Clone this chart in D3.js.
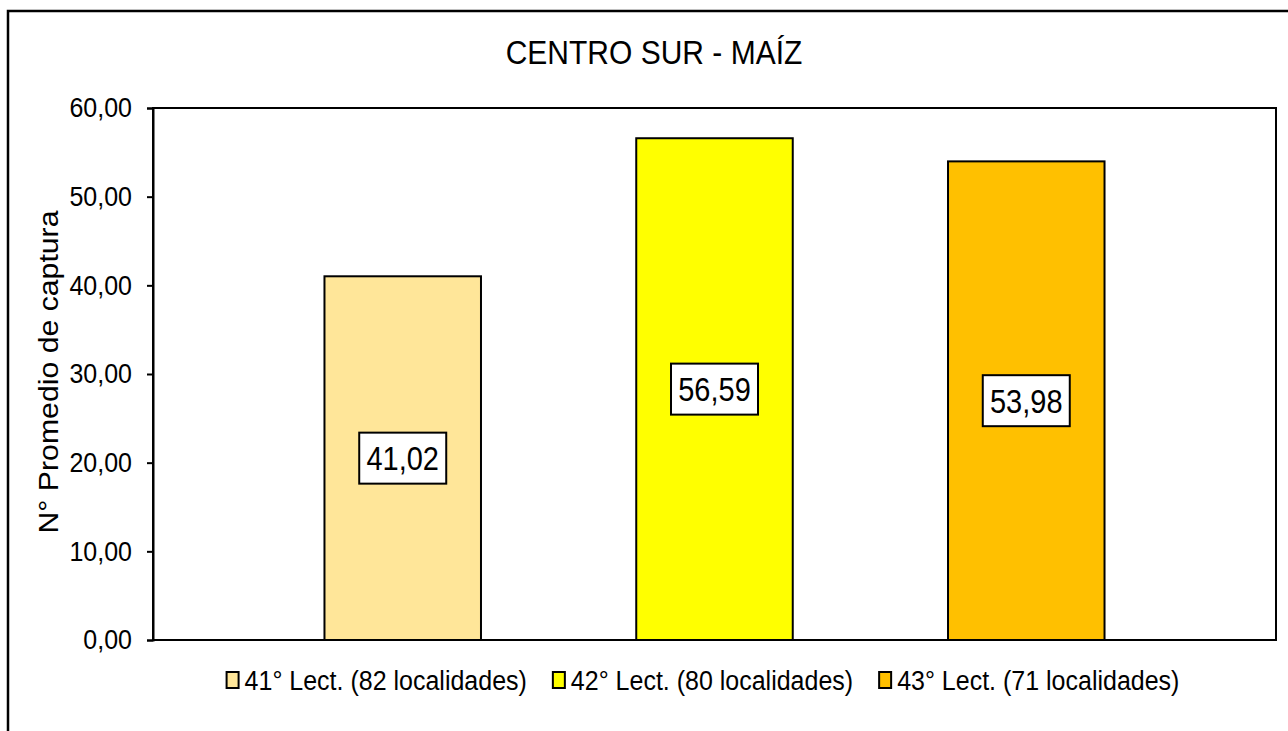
<!DOCTYPE html>
<html>
<head>
<meta charset="utf-8">
<script src="https://cdn.jsdelivr.net/npm/d3@7"></script>
<style>
  html, body { margin: 0; padding: 0; background: #fff; }
  svg { display: block; }
  text { font-family: "Liberation Sans", Arial, sans-serif; fill: #000; }
</style>
</head>
<body>
<svg id="chart" width="1288" height="731"></svg>
<script>
const title = "CENTRO SUR - MAÍZ";
const yTitle = "N° Promedio de captura";
const categories = ["41° Lect. (82 localidades)", "42° Lect. (80 localidades)", "43° Lect. (71 localidades)"];
const values = [41.02, 56.59, 53.98];
const colors = ["#FFE699", "#FFFF00", "#FFC000"];
const yTicks = [0, 10, 20, 30, 40, 50, 60];

const SY = 1.12; // vertical text stretch of the original
const svg = d3.select("#chart");
const plot = {left: 153, right: 1276, top: 108, bottom: 640};
const fmt = d => d3.format(".2f")(d).replace(".", ",");

// outer frame
svg.append("rect").attr("x", 8).attr("y", 11).attr("width", 1300).attr("height", 740)
  .attr("fill", "#fff").attr("stroke", "#000").attr("stroke-width", 2.5);

const x = d3.scaleBand().domain(categories).range([plot.left, plot.right])
  .paddingInner(0.498).paddingOuter(0.55);
const y = d3.scaleLinear().domain([0, 60]).range([plot.bottom, plot.top]);

const data = categories.map((c, i) => ({c, v: values[i], color: colors[i]}));

// bars
svg.append("g").selectAll("rect").data(data).join("rect")
  .attr("x", d => x(d.c)).attr("y", d => y(d.v))
  .attr("width", x.bandwidth()).attr("height", d => y(0) - y(d.v))
  .attr("fill", d => d.color).attr("stroke", "#000").attr("stroke-width", 2);

// plot frame
svg.append("rect").attr("x", plot.left).attr("y", plot.top)
  .attr("width", plot.right - plot.left).attr("height", plot.bottom - plot.top)
  .attr("fill", "none").attr("stroke", "#000").attr("stroke-width", 2);

// y axis
const yAxis = svg.append("g").attr("transform", `translate(${plot.left},0)`)
  .call(d3.axisLeft(y).tickValues(yTicks).tickSize(6).tickPadding(15).tickFormat(fmt));
yAxis.select(".domain").attr("stroke", "#000").attr("stroke-width", 2);
yAxis.selectAll(".tick line").attr("stroke", "#000").attr("stroke-width", 2);
yAxis.selectAll(".tick text")
  .attr("font-family", '"Liberation Sans", Arial, sans-serif')
  .attr("font-size", 25).attr("fill", "#000")
  .attr("transform", `scale(1,${SY})`);

// title
svg.append("text").attr("transform", `translate(654,64) scale(1,${SY})`)
  .attr("text-anchor", "middle").attr("font-size", 30).text(title);

// y axis title
svg.append("text").attr("transform", `translate(58,372) scale(1,${SY}) rotate(-90)`)
  .attr("text-anchor", "middle").attr("font-size", 27).text(yTitle);

// data labels
const lab = svg.append("g").selectAll("g").data(data).join("g")
  .attr("transform", d => `translate(${x(d.c) + x.bandwidth() / 2},${y(d.v / 2)})`);
lab.append("rect").attr("x", -43.5).attr("y", -25.5).attr("width", 87).attr("height", 51)
  .attr("fill", "#fff").attr("stroke", "#000").attr("stroke-width", 2);
lab.append("text").attr("text-anchor", "middle")
  .attr("transform", `translate(0,12) scale(1,${SY})`)
  .attr("font-size", 29).text(d => fmt(d.v));

// legend
const leg = svg.append("g");
const items = leg.selectAll("g").data(data).join("g");
items.append("rect").attr("x", 0).attr("y", 672).attr("width", 12).attr("height", 16)
  .attr("fill", d => d.color).attr("stroke", "#000").attr("stroke-width", 2);
items.append("text").attr("transform", `translate(18,690) scale(1,${SY})`)
  .attr("font-size", 25).text(d => d.c);
let cx = 0;
const gap = 26;
const widths = [];
items.each(function () { widths.push(18 + d3.select(this).select("text").node().getComputedTextLength()); });
const total = d3.sum(widths) + gap * (widths.length - 1);
let start = 703 - total / 2;
items.attr("transform", (d, i) => {
  const t = `translate(${start},0)`;
  start += widths[i] + gap;
  return t;
});
</script>
</body>
</html>
